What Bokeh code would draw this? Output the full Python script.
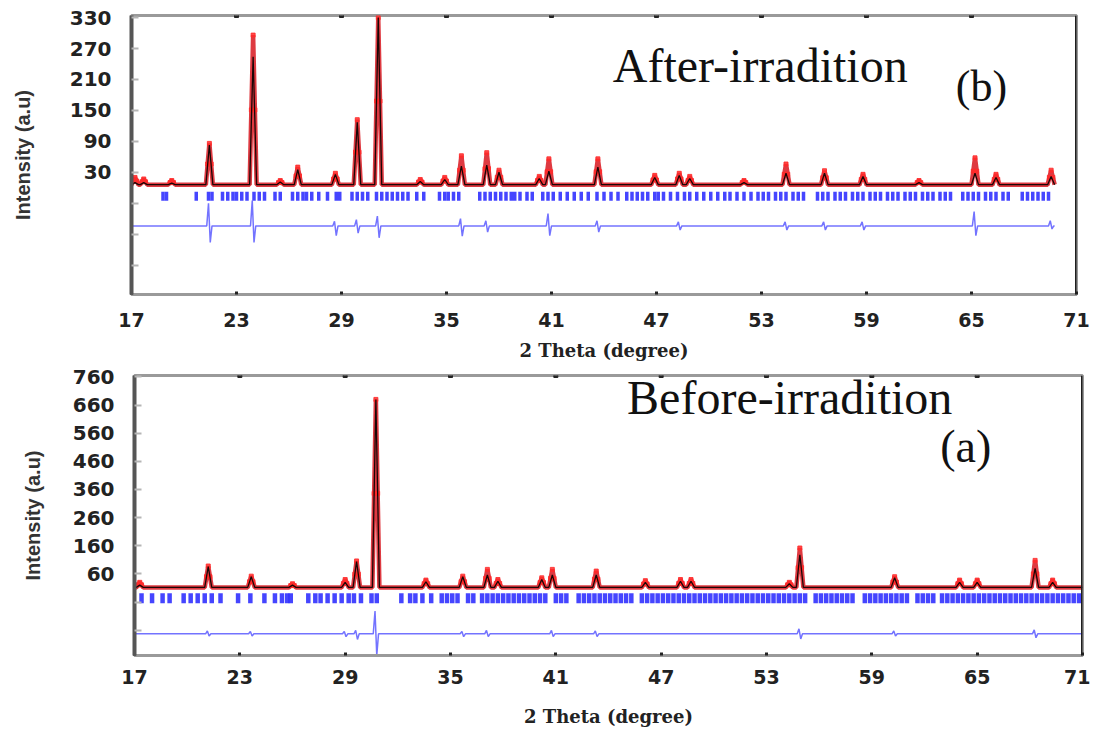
from bokeh.plotting import figure
from bokeh.models import Range1d, FixedTicker, Label, Span
from bokeh.embed import file_html
from bokeh.resources import INLINE

# ---------------- data ----------------
x_ticks = [17, 23, 29, 35, 41, 47, 53, 59, 65, 71]

# (b) After-irradition
after_y_ticks = [30, 90, 150, 210, 270, 330]
after_y_minor = [-150, -90, -30]
after_base = 6
after_pos = [17.2, 17.7, 19.3, 21.45, 23.95, 25.5, 26.5, 28.65, 29.9, 31.1, 33.5, 34.9,
             35.85, 37.3, 38.0, 40.3, 40.85, 43.65, 46.9, 48.3, 48.9, 52.0, 54.4,
             56.6, 58.8, 62.0, 65.2, 66.4, 69.55]
after_obs = [20, 17, 14, 86, 296, 14, 40, 28, 132, 330, 16, 20,
             62, 68, 34, 22, 56, 56, 24, 28, 22, 14, 46,
             33, 26, 14, 58, 26, 34]
after_calc = [10, 10, 9, 83, 254, 11, 35, 26, 127, 330, 12, 16,
              42, 44, 30, 18, 32, 40, 20, 24, 18, 10, 28,
              28, 22, 10, 28, 20, 22]
after_bragg = [18.8, 19.0, 20.7, 21.4, 21.6, 22.2, 22.5, 22.8, 23.0, 23.3, 23.6, 24.0,
               24.3, 24.6, 25.2, 25.5, 26.2, 26.5, 26.8, 27.0, 27.3, 27.7, 28.2, 28.7,
               28.9, 29.6, 29.9, 30.2, 30.5, 31.0, 31.3, 31.6, 31.9, 32.2, 32.5, 32.8,
               33.3, 33.7, 34.6, 34.9, 35.1, 35.4, 35.7, 36.9, 37.2, 37.5, 37.8, 38.1,
               38.4, 38.7, 38.9, 39.2, 39.6, 39.9, 40.5, 40.8, 41.1, 41.5, 41.9, 42.3,
               42.7, 43.1, 43.6, 44.0, 44.4, 44.8, 45.3, 45.6, 45.9, 46.2, 46.5, 46.9,
               47.1, 47.4, 47.8, 48.2, 48.6, 48.9, 49.3, 49.7, 50.1, 50.5, 50.9, 51.2,
               51.6, 52.0, 52.4, 52.8, 53.1, 53.4, 53.8, 54.1, 54.4, 54.8, 55.1, 55.4,
               56.2, 56.5, 56.8, 57.2, 57.5, 57.8, 58.2, 58.5, 58.8, 59.2, 59.5, 59.8,
               60.2, 60.5, 60.8, 61.2, 61.5, 61.8, 62.2, 62.5, 62.8, 63.2, 63.5, 63.8,
               64.5, 64.8, 65.1, 65.4, 65.8, 66.1, 66.4, 66.8, 67.1, 67.9, 68.2, 68.5,
               68.8, 69.1, 69.4]
after_diff_base = -74
after_diff_pos = [21.45, 23.95, 28.65, 29.9, 31.1, 35.85, 37.3, 40.85, 43.65, 48.3,
                  54.4, 56.6, 58.8, 65.2, 69.55]
after_diff_hi = [44, 49, 9, 12, 19, 14, 10, 24, 10, 8, 8, 8, 8, 28, 10]
after_diff_lo = [-32, -32, -19, -14, -23, -20, -12, -19, -12, -8, -8, -8, -8, -19, -6]

# (a) Before-irradition
before_y_ticks = [60, 160, 260, 360, 460, 560, 660, 760]
before_y_minor = [-140, -40]
before_base = 12
before_pos = [17.3, 21.2, 23.65, 26.0, 29.0, 29.65, 30.75, 33.6, 35.7, 37.1, 37.7,
              40.2, 40.8, 43.3, 46.1, 48.1, 48.7, 54.3, 54.9, 60.3, 64.0, 65.0,
              68.3, 69.3]
before_obs = [30, 88, 52, 25, 40, 106, 680, 38, 52, 76, 40,
              46, 76, 70, 36, 40, 40, 30, 152, 50, 38, 38,
              108, 38]
before_calc = [20, 86, 50, 20, 30, 104, 680, 32, 50, 56, 34,
               40, 56, 56, 30, 34, 34, 25, 128, 46, 30, 30,
               80, 30]
before_bragg = [17.4, 18.0, 18.6, 19.0, 19.8, 20.2, 20.6, 21.0, 21.4, 21.9, 22.9, 23.6,
                24.4, 25.0, 25.4, 25.7, 25.9, 26.9, 27.3, 27.6, 28.0, 28.4, 28.8, 29.2,
                29.5, 29.9, 30.5, 30.8, 32.2, 32.7, 33.0, 33.4, 33.9, 34.5, 34.8, 35.1,
                35.4, 36.0, 36.3, 36.8, 37.1, 37.4, 37.7, 38.0, 38.3, 38.6, 38.9, 39.2,
                39.5, 39.8, 40.1, 40.4, 41.0, 41.3, 41.6, 42.3, 42.6, 42.9, 43.2, 43.5,
                43.8, 44.1, 44.4, 44.7, 45.0, 45.3, 45.9, 46.2, 46.5, 46.8, 47.1, 47.4,
                47.7, 48.0, 48.3, 48.6, 48.9, 49.2, 49.5, 49.8, 50.1, 50.4, 50.7, 51.0,
                51.3, 51.6, 51.9, 52.2, 52.5, 52.8, 53.1, 53.4, 53.7, 54.0, 54.3, 54.6,
                54.9, 55.2, 55.8, 56.1, 56.4, 56.7, 57.0, 57.3, 57.6, 57.9, 58.6, 58.9,
                59.2, 59.5, 59.8, 60.1, 60.4, 60.7, 61.0, 61.6, 61.9, 62.2, 62.5, 63.0,
                63.3, 63.6, 63.9, 64.2, 64.5, 64.8, 65.1, 65.4, 65.7, 66.0, 66.3, 66.6,
                66.9, 67.2, 67.5, 67.8, 68.1, 68.4, 68.7, 69.0, 69.3, 69.6, 69.9, 70.2,
                70.5, 70.8]
before_diff_base = -153
before_diff_pos = [21.2, 23.65, 29.0, 29.65, 30.75, 35.7, 37.1, 40.8, 43.3, 54.9, 60.3, 68.3]
before_diff_hi = [10, 8, 8, 12, 81, 8, 12, 12, 10, 18, 10, 14]
before_diff_lo = [-8, -8, -10, -20, -77, -10, -10, -10, -10, -18, -8, -14]


def profile(pos, heights, base, hw, x0, x1):
    xs, ys = [x0], [base]
    for p, h in zip(pos, heights):
        xs += [p - hw, p, p + hw]
        ys += [base, h, base]
    xs.append(x1)
    ys.append(base)
    return xs, ys


def diff_profile(pos, hi, lo, base, x0, x1):
    xs, ys = [x0], [base]
    for p, a, b in zip(pos, hi, lo):
        xs += [p - 0.15, p - 0.05, p + 0.05, p + 0.15]
        ys += [base, base + a, base + b, base]
    xs.append(x1)
    ys.append(base)
    return xs, ys


def panel(width, height, borders, yr, yticks, yminor, base, pos, obs, calc, bragg,
          bragg_lo, bragg_hi, bragg_w, dbase, dpos, dhi, dlo, xend, label_std, x_tick_std, x_std):
    bl, br, bt, bb = borders
    p = figure(width=width, height=height, x_range=Range1d(17, 71), y_range=Range1d(*yr),
               output_backend="svg", toolbar_location=None,
               min_border_left=bl, min_border_right=br, min_border_top=bt, min_border_bottom=bb)
    p.grid.visible = False
    p.outline_line_color = "#9a9a9a"
    p.outline_line_width = 3
    p.background_fill_color = "white"

    # observed (red), calculated (black)
    ox, oy = profile(pos, obs, base, 0.2, 17.0, xend)
    cx, cy = profile(pos, calc, base, 0.2, 17.0, xend)
    p.line(ox, oy, line_color="#d81820", line_width=4.5, line_alpha=0.85)
    mx = list(pos) + [q - 0.1 for q in pos] + [q + 0.1 for q in pos]
    my = list(obs) + [(o + base) / 2 for o in obs] + [(o + base) / 2 for o in obs]
    p.scatter(mx, my, marker="square", size=4, color="#ff2a2a", alpha=0.85)
    p.line(cx, cy, line_color="#1a0606", line_width=1.3)

    # Bragg positions
    p.segment(x0=bragg, y0=[bragg_lo] * len(bragg), x1=bragg, y1=[bragg_hi] * len(bragg),
              line_color="#2424ff", line_width=bragg_w, line_alpha=0.85)

    # difference
    dx, dy = diff_profile(dpos, dhi, dlo, dbase, 17.05, xend)
    p.line(dx, dy, line_color="#5050ff", line_width=1.5, line_alpha=0.8)

    # right dark edge and top tick dots
    p.add_layout(Span(location=71, dimension="height", line_color="#1e1e1e", line_width=3))
    p.scatter(x_ticks[1:-1], [yr[1]] * (len(x_ticks) - 2), marker="square", size=4, color="#222")

    # axes
    p.xaxis.ticker = FixedTicker(ticks=x_ticks, minor_ticks=[])
    p.xaxis.axis_label = "2 Theta (degree)"
    p.xaxis.axis_label_text_font = "DejaVu Serif"
    p.xaxis.axis_label_text_font_style = "bold"
    p.xaxis.axis_label_text_font_size = "18px"
    p.xaxis.axis_label_text_color = "#222"
    p.xaxis.axis_label_standoff = x_std
    p.xaxis.major_label_text_font = "DejaVu Sans"
    p.xaxis.major_label_text_font_style = "bold"
    p.xaxis.major_label_text_font_size = "19px"
    p.xaxis.major_label_text_color = "#222"
    p.xaxis.major_label_standoff = x_tick_std
    p.xaxis.axis_line_color = "#9a9a9a"
    p.xaxis.axis_line_width = 3
    p.xaxis.major_tick_in = 3
    p.xaxis.major_tick_out = 0
    p.xaxis.major_tick_line_color = "#222"
    p.xaxis.major_tick_line_width = 3

    p.yaxis.ticker = FixedTicker(ticks=yticks, minor_ticks=yminor)
    p.yaxis.axis_label = "Intensity (a.u)"
    p.yaxis.axis_label_text_font = "Liberation Sans"
    p.yaxis.axis_label_text_font_style = "bold"
    p.yaxis.axis_label_text_font_size = "20px"
    p.yaxis.axis_label_text_color = "#333"
    p.yaxis.axis_label_standoff = label_std
    p.yaxis.major_label_text_font = "DejaVu Sans"
    p.yaxis.major_label_text_font_style = "bold"
    p.yaxis.major_label_text_font_size = "20px"
    p.yaxis.major_label_text_color = "#222"
    p.yaxis.major_label_standoff = 20
    p.yaxis.axis_line_color = "#555"
    p.yaxis.axis_line_width = 4
    p.yaxis.major_tick_in = 7
    p.yaxis.major_tick_out = 0
    p.yaxis.major_tick_line_color = "#b5b5b5"
    p.yaxis.major_tick_line_width = 2
    p.yaxis.minor_tick_in = 7
    p.yaxis.minor_tick_out = 0
    p.yaxis.minor_tick_line_color = "#b5b5b5"
    p.yaxis.minor_tick_line_width = 2
    return p


p1 = panel(1090, 363, (131, 14, 15, 65), (-207, 334), after_y_ticks, after_y_minor, after_base,
           after_pos, after_obs, after_calc, after_bragg, -25, -8, 3.5,
           after_diff_base, after_diff_pos, after_diff_hi, after_diff_lo, 69.75, 33, 18, 10)
p1.add_layout(Label(x=44.5, y=185, text="After-irradition", text_font="Liberation Serif",
                    text_font_size="48px", text_color="#111"))
p1.add_layout(Label(x=64.1, y=149, text="(b)", text_font="Liberation Serif",
                    text_font_size="44px", text_color="#111"))

p2 = panel(1090, 366, (134, 8, 12, 71), (-230, 765), before_y_ticks, before_y_minor, before_base,
           before_pos, before_obs, before_calc, before_bragg, -44, -9, 4.5,
           before_diff_base, before_diff_pos, before_diff_hi, before_diff_lo, 71.0, 26, 14, 19)
p2.add_layout(Label(x=45.06, y=592, text="Before-irradition", text_font="Liberation Serif",
                    text_font_size="48px", text_color="#111"))
p2.add_layout(Label(x=62.9, y=421, text="(a)", text_font="Liberation Serif",
                    text_font_size="46px", text_color="#111"))

open("out.html", "w").write(file_html((p1, p2), INLINE))
